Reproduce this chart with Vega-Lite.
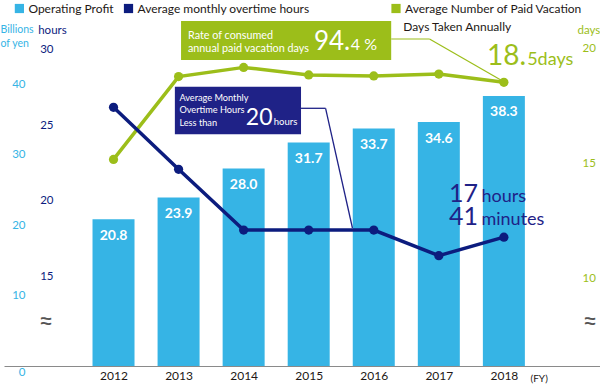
{
  "$schema": "https://vega.github.io/schema/vega-lite/v6.json",
  "width": 596,
  "height": 366,
  "autosize": {"type": "none"},
  "padding": {"left": 4, "top": 0, "right": 0, "bottom": 18},
  "background": "white",
  "config": {"view": {"stroke": null}, "font": "Lato"},
  "datasets": {
    "main": [
      {"year": 2012, "profit": 20.8, "overtime": 26.17, "vacation": 15.17},
      {"year": 2013, "profit": 23.9, "overtime": 22.08, "vacation": 18.77},
      {"year": 2014, "profit": 28.0, "overtime": 18.07, "vacation": 19.17},
      {"year": 2015, "profit": 31.7, "overtime": 18.07, "vacation": 18.84},
      {"year": 2016, "profit": 33.7, "overtime": 18.07, "vacation": 18.8},
      {"year": 2017, "profit": 34.6, "overtime": 16.38, "vacation": 18.88},
      {"year": 2018, "profit": 38.3, "overtime": 17.6, "vacation": 18.52}
    ]
  },
  "layer": [
    {
      "layer": [
        {
          "data": {"name": "main"},
          "mark": {"type": "bar", "width": 42, "orient": "vertical", "color": "#36b4e5"},
          "encoding": {
            "x": {
              "field": "year", "type": "quantitative",
              "scale": {"domain": [2010.3935, 2019.4006], "nice": false, "zero": false},
              "axis": {
                "values": [2012, 2013, 2014, 2015, 2016, 2017, 2018], "format": "d",
                "domain": true, "domainColor": "#8a8a8a", "domainWidth": 1,
                "ticks": false, "tickSize": 0, "grid": false, "labelFlush": false, "labelOverlap": false,
                "labelPadding": 4, "labelFont": "Lato", "labelFontSize": 12, "labelColor": "#231815",
                "title": "(FY)", "titleX": 526, "titleY": 15, "titleAlign": "left", "titleBaseline": "alphabetic",
                "titleFont": "Lato", "titleFontSize": 10, "titleFontWeight": "normal", "titleColor": "#231815"
              }
            },
            "y": {
              "field": "profit", "type": "quantitative",
              "scale": {"domain": [0, 51.915], "nice": false, "zero": false},
              "axis": {
                "orient": "left", "offset": -21, "values": [0, 10, 20, 30, 40],
                "domain": false, "ticks": false, "tickSize": 0, "grid": false, "labelPadding": 0,
                "labelFont": "Lato", "labelFontSize": 11.5, "labelColor": "#36b4e5",
                "labelBaseline": {"condition": {"test": "datum.value == 0", "value": "top"}, "value": "middle"},
                "title": ["Billions", "of yen"], "titleAngle": 0, "titleAlign": "left", "titleBaseline": "top",
                "titleX": -25, "titleY": 24, "titleLineHeight": 14, "titleFont": "Lato", "titleFontSize": 10.5,
                "titleFontWeight": "normal", "titleColor": "#36b4e5"
              }
            },
            "color": {
              "datum": "Operating Profit",
              "scale": {"range": ["#36b4e5"]},
              "legend": {
                "orient": "none", "legendX": 9.4, "legendY": 2.5, "title": null, "symbolType": "square",
                "symbolSize": 85, "symbolStrokeWidth": 0, "labelFont": "Lato", "labelFontSize": 12,
                "labelColor": "#231815", "labelOffset": 3, "labelLimit": 400
              }
            }
          }
        },
        {
          "data": {"name": "main"},
          "mark": {"type": "text", "dy": 16.5, "baseline": "middle", "align": "center", "color": "white", "font": "Lato", "fontWeight": "bold", "fontSize": 14},
          "encoding": {
            "x": {"field": "year", "type": "quantitative"},
            "y": {"field": "profit", "type": "quantitative"},
            "text": {"field": "profit", "type": "quantitative", "format": ".1f"}
          }
        },
        {
          "data": {"values": [{}]},
          "mark": {"type": "rect", "color": "#9cbe1a"},
          "encoding": {
            "x": {"datum": 2013.038}, "x2": {"datum": 2016.268},
            "y": {"datum": 48.936}, "y2": {"datum": 43.404}
          }
        },
        {
          "data": {"values": [{}]},
          "mark": {"type": "text", "text": ["Rate of consumed", "annual paid vacation days"], "align": "left", "baseline": "alphabetic", "lineHeight": 12.4, "font": "Lato", "fontSize": 10.8, "color": "white"},
          "encoding": {"x": {"datum": 2013.144}, "y": {"datum": 46.34}}
        },
        {
          "data": {"values": [{}]},
          "mark": {"type": "text", "text": "94.", "align": "right", "baseline": "alphabetic", "font": "Lato", "fontSize": 26, "color": "white"},
          "encoding": {"x": {"datum": 2015.6376}, "y": {"datum": 44.823}}
        },
        {
          "data": {"values": [{}]},
          "mark": {"type": "text", "text": "4 %", "align": "left", "baseline": "alphabetic", "font": "Lato", "fontSize": 16, "color": "white"},
          "encoding": {"x": {"datum": 2015.648}, "y": {"datum": 44.823}}
        },
        {
          "data": {"values": [{}]},
          "mark": {"type": "rect", "color": "#1f2287"},
          "encoding": {
            "x": {"datum": 2012.943}, "x2": {"datum": 2014.882},
            "y": {"datum": 39.617}, "y2": {"datum": 32.865}
          }
        },
        {
          "data": {"values": [{}]},
          "mark": {"type": "text", "text": ["Average Monthly", "Overtime Hours", "Less than"], "align": "left", "baseline": "alphabetic", "lineHeight": 12.7, "font": "Lato", "fontSize": 9.2, "color": "white"},
          "encoding": {"x": {"datum": 2013.0125}, "y": {"datum": 37.631}}
        },
        {
          "data": {"values": [{}]},
          "mark": {"type": "text", "text": "20", "align": "right", "baseline": "alphabetic", "font": "Lato", "fontSize": 23, "color": "white"},
          "encoding": {"x": {"datum": 2014.4437}, "y": {"datum": 34.184}}
        },
        {
          "data": {"values": [{}]},
          "mark": {"type": "text", "text": "hours", "align": "left", "baseline": "alphabetic", "font": "Lato", "fontSize": 9.5, "color": "white"},
          "encoding": {"x": {"datum": 2014.4633}, "y": {"datum": 34.184}}
        },
        {
          "data": {"values": [{}]},
          "mark": {"type": "rule", "color": "#9cbe1a", "strokeWidth": 1.2},
          "encoding": {
            "x": {"datum": 2016.268}, "x2": {"datum": 2016.857},
            "y": {"datum": 46.383}, "y2": {"datum": 46.383}
          }
        },
        {
          "data": {"values": [{}]},
          "mark": {"type": "rule", "color": "#9cbe1a", "strokeWidth": 1.2},
          "encoding": {
            "x": {"datum": 2016.857}, "x2": {"datum": 2018},
            "y": {"datum": 46.383}, "y2": {"datum": 40.326}
          }
        },
        {
          "data": {"values": [{}]},
          "mark": {"type": "rule", "color": "#1f2287", "strokeWidth": 1.3},
          "encoding": {
            "x": {"datum": 2014.882}, "x2": {"datum": 2015.2597},
            "y": {"datum": 36.553}, "y2": {"datum": 36.553}
          }
        },
        {
          "data": {"values": [{}]},
          "mark": {"type": "rule", "color": "#1f2287", "strokeWidth": 1.3},
          "encoding": {
            "x": {"datum": 2015.2597}, "x2": {"datum": 2015.6723},
            "y": {"datum": 36.553}, "y2": {"datum": 19.574}
          }
        },
        {
          "data": {"values": [{}]},
          "mark": {"type": "text", "text": "18.", "align": "right", "baseline": "alphabetic", "font": "Lato", "fontSize": 28, "color": "#9cbe1a"},
          "encoding": {"x": {"datum": 2018.3427}, "y": {"datum": 42.695}}
        },
        {
          "data": {"values": [{}]},
          "mark": {"type": "text", "text": "5days", "align": "left", "baseline": "alphabetic", "font": "Lato", "fontSize": 18, "color": "#9cbe1a"},
          "encoding": {"x": {"datum": 2018.3578}, "y": {"datum": 42.695}}
        },
        {
          "data": {"values": [{}]},
          "mark": {"type": "text", "text": "17", "align": "right", "baseline": "alphabetic", "font": "Lato", "fontSize": 25, "color": "#1f2287"},
          "encoding": {"x": {"datum": 2017.6022}, "y": {"datum": 23.305}}
        },
        {
          "data": {"values": [{}]},
          "mark": {"type": "text", "text": "hours", "align": "left", "baseline": "alphabetic", "font": "Lato", "fontSize": 18, "color": "#1f2287"},
          "encoding": {"x": {"datum": 2017.655}, "y": {"datum": 23.305}}
        },
        {
          "data": {"values": [{}]},
          "mark": {"type": "text", "text": "41", "align": "right", "baseline": "alphabetic", "font": "Lato", "fontSize": 25, "color": "#1f2287"},
          "encoding": {"x": {"datum": 2017.6022}, "y": {"datum": 20.0}}
        },
        {
          "data": {"values": [{}]},
          "mark": {"type": "text", "text": "minutes", "align": "left", "baseline": "alphabetic", "font": "Lato", "fontSize": 18, "color": "#1f2287"},
          "encoding": {"x": {"datum": 2017.655}, "y": {"datum": 20.0}}
        },
        {
          "data": {"values": [{}]},
          "mark": {"type": "text", "text": "Days Taken Annually", "align": "left", "baseline": "alphabetic", "font": "Lato", "fontSize": 12, "color": "#231815"},
          "encoding": {"x": {"datum": 2016.4535}, "y": {"datum": 47.574}}
        }
      ]
    },
    {
      "layer": [
        {
          "data": {"name": "main"},
          "mark": {"type": "line", "color": "#9cbe1a", "strokeWidth": 3.5},
          "encoding": {
            "x": {"field": "year", "type": "quantitative"},
            "y": {
              "field": "vacation", "type": "quantitative",
              "scale": {"domain": [6.187, 22.1], "nice": false, "zero": false},
              "axis": {
                "orient": "right", "offset": -18, "values": [8.143, 10, 15, 20], "format": "d",
                "labelExpr": "datum.value < 9 ? '≈' : datum.label",
                "domain": false, "ticks": false, "tickSize": 0, "grid": false, "labelPadding": 0,
                "labelAlign": "left", "labelFont": "Lato",
                "labelFontSize": {"condition": {"test": "datum.value < 9", "value": 26}, "value": 11.5},
                "labelColor": {"condition": {"test": "datum.value < 9", "value": "#555555"}, "value": "#9cbe1a"},
                "title": "days", "titleAngle": 0, "titleAlign": "left", "titleBaseline": "top",
                "titleX": -5, "titleY": 24, "titleFont": "Lato", "titleFontSize": 11.5,
                "titleFontWeight": "normal", "titleColor": "#9cbe1a"
              }
            }
          }
        },
        {
          "data": {"name": "main"},
          "mark": {"type": "point", "filled": true, "size": 85, "opacity": 1},
          "encoding": {
            "x": {"field": "year", "type": "quantitative"},
            "y": {"field": "vacation", "type": "quantitative"},
            "color": {
              "datum": "Average Number of Paid Vacation",
              "scale": {"range": ["#9cbe1a"]},
              "legend": {
                "orient": "none", "legendX": 386, "legendY": 2.5, "title": null, "symbolType": "square",
                "symbolSize": 85, "symbolStrokeWidth": 0, "labelFont": "Lato", "labelFontSize": 12,
                "labelColor": "#231815", "labelOffset": 3, "labelLimit": 400
              }
            }
          }
        }
      ]
    },
    {
      "layer": [
        {
          "data": {"name": "main"},
          "mark": {"type": "line", "color": "#0c1c7e", "strokeWidth": 3.5},
          "encoding": {
            "x": {"field": "year", "type": "quantitative"},
            "y": {
              "field": "overtime", "type": "quantitative",
              "scale": {"domain": [9.096, 33.254], "nice": false, "zero": false},
              "axis": {
                "orient": "left", "offset": -49, "values": [12.066, 15, 20, 25, 30], "format": "d",
                "labelExpr": "datum.value < 13 ? '≈' : datum.label",
                "domain": false, "ticks": false, "tickSize": 0, "grid": false, "labelPadding": 0,
                "labelFont": "Lato",
                "labelFontSize": {"condition": {"test": "datum.value < 13", "value": 26}, "value": 11.5},
                "labelColor": {"condition": {"test": "datum.value < 13", "value": "#555555"}, "value": "#0c1c7e"},
                "title": "hours", "titleAngle": 0, "titleAlign": "left", "titleBaseline": "top",
                "titleX": -15.3, "titleY": 24, "titleFont": "Lato", "titleFontSize": 11.5,
                "titleFontWeight": "normal", "titleColor": "#0c1c7e"
              }
            }
          }
        },
        {
          "data": {"name": "main"},
          "mark": {"type": "point", "filled": true, "size": 85, "opacity": 1},
          "encoding": {
            "x": {"field": "year", "type": "quantitative"},
            "y": {"field": "overtime", "type": "quantitative"},
            "color": {
              "datum": "Average monthly overtime hours",
              "scale": {"range": ["#0c1c7e"]},
              "legend": {
                "orient": "none", "legendX": 118.5, "legendY": 2.5, "title": null, "symbolType": "square",
                "symbolSize": 85, "symbolStrokeWidth": 0, "labelFont": "Lato", "labelFontSize": 12,
                "labelColor": "#231815", "labelOffset": 3, "labelLimit": 400
              }
            }
          }
        }
      ]
    }
  ],
  "resolve": {"scale": {"y": "independent", "color": "independent"}, "axis": {"y": "independent"}}
}
